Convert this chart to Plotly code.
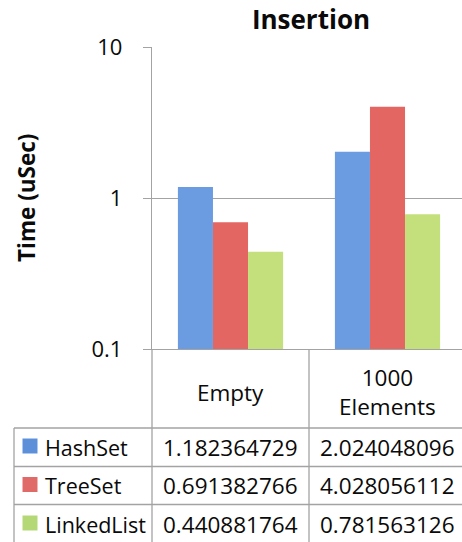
import plotly.graph_objects as go

# ---- data ----
categories = ["Empty", "1000 Elements"]
category_labels = ["Empty", "1000<br>Elements"]
series_names = ["HashSet", "TreeSet", "LinkedList"]
hashset = [1.182364729, 2.024048096]
treeset = [0.691382766, 4.028056112]
linkedlist = [0.440881764, 0.781563126]
y_tickvals = [0.1, 1, 10]
y_ticktext = ["0.1", "1", "10"]

series_values = [hashset, treeset, linkedlist]
colors = ["#6B9CE2", "#E46663", "#C3E07C"]
key_colors = ["#5E90DA", "#E06A68", "#B5D876"]

# ---- layout constants (pixels) ----
W, H = 462, 542
L, R, T, B = 152, 0, 47, 193
plot_w = W - L - R
plot_h = H - T - B
cat_w = 157.0
FONT = "Open Sans"
LINE = "#A3A3A3"
TXT = "#0A0A0A"


def px_x(px):
    return (px - L) / plot_w


def px_y(py):
    return (H - B - py) / plot_h


fig = go.Figure()
for name, vals, c in zip(series_names, series_values, colors):
    fig.add_trace(go.Bar(x=categories, y=vals, name=name, marker=dict(color=c, line=dict(width=0)),
                         showlegend=False))

# table geometry
row_lines = [428, 466.5, 504.5]
row_centers = [447, 485.5, 524]
table_left = 14
cat_row_center = 392

shapes = []
for yl in row_lines:
    shapes.append(dict(type="line", xref="paper", yref="paper", x0=px_x(table_left), x1=1,
                       y0=px_y(yl), y1=px_y(yl), line=dict(color=LINE, width=1.3)))
shapes.append(dict(type="line", xref="paper", yref="paper", x0=px_x(table_left), x1=px_x(table_left),
                   y0=px_y(row_lines[0]), y1=px_y(H + 2), line=dict(color=LINE, width=1.3)))
shapes.append(dict(type="line", xref="paper", yref="paper", x0=0, x1=0,
                   y0=0, y1=px_y(H + 2), line=dict(color=LINE, width=1.3)))
shapes.append(dict(type="line", xref="x", yref="paper", x0=0.5, x1=0.5,
                   y0=0, y1=px_y(H + 2), line=dict(color=LINE, width=1.3)))
for rc, kc in zip(row_centers, key_colors):
    shapes.append(dict(type="rect", xref="paper", yref="paper", x0=px_x(22.5), x1=px_x(37.5),
                       y0=px_y(rc - 8.5), y1=px_y(rc + 6.5), line=dict(width=0), fillcolor=kc))

annotations = []
for cat, lab in zip(categories, category_labels):
    annotations.append(dict(x=cat, xref="x", y=px_y(cat_row_center), yref="paper", text=lab,
                            showarrow=False, font=dict(family=FONT, size=22.5, color=TXT),
                            xanchor="center", yanchor="middle"))
for name, vals, rc in zip(series_names, series_values, row_centers):
    annotations.append(dict(x=px_x(43), xref="paper", y=px_y(rc), yref="paper", text=name,
                            showarrow=False, font=dict(family=FONT, size=21.5, color=TXT),
                            xanchor="left", yanchor="middle"))
    for cat, v in zip(categories, vals):
        annotations.append(dict(x=cat, xref="x", y=px_y(rc), yref="paper", text=f"{v:.9f}",
                                showarrow=False, font=dict(family=FONT, size=22.5, color=TXT),
                                xanchor="center", yanchor="middle"))
annotations.append(dict(x=px_x(26), xref="paper", y=0.5, yref="paper", text="<b>Time (uSec)</b>",
                        textangle=-90, showarrow=False, font=dict(family=FONT, size=22.5, color=TXT),
                        xanchor="center", yanchor="middle"))

fig.update_layout(
    width=W, height=H,
    margin=dict(l=L, r=R, t=T, b=B, pad=0),
    paper_bgcolor="white", plot_bgcolor="white",
    barmode="group", bargap=0.33, bargroupgap=0,
    title=dict(text="<b>Insertion</b>", x=px_x(311), xref="paper", xanchor="center",
               y=1 - 20 / H, yref="container", yanchor="middle",
               font=dict(family=FONT, size=26, color=TXT)),
    xaxis=dict(type="category", range=[-0.5, -0.5 + plot_w / cat_w], showticklabels=False,
               showgrid=False, showline=True, linecolor=LINE, linewidth=1.3, ticks="", zeroline=False),
    yaxis=dict(type="log", range=[-1, 1], tickvals=y_tickvals, ticktext=y_ticktext,
               showgrid=True, gridcolor=LINE, gridwidth=1.3, showline=True, linecolor=LINE, linewidth=1.3,
               ticks="outside", ticklen=8, tickcolor=LINE, tickwidth=1.3, ticklabelstandoff=16,
               tickfont=dict(family=FONT, size=22, color=TXT), zeroline=False),
    shapes=shapes,
    annotations=annotations,
)

fig.write_html("out.html")
